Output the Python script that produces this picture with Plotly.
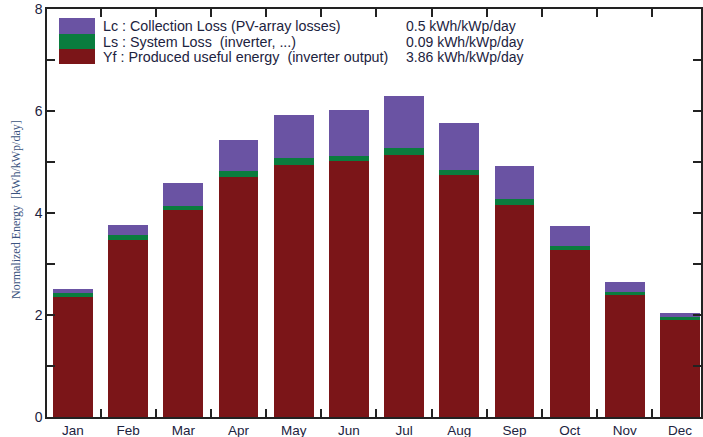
import plotly.graph_objects as go

months = ["Jan", "Feb", "Mar", "Apr", "May", "Jun", "Jul", "Aug", "Sep", "Oct", "Nov", "Dec"]
yf = [2.35, 3.48, 4.06, 4.71, 4.95, 5.01, 5.14, 4.75, 4.16, 3.27, 2.39, 1.91]
ls = [0.08, 0.08, 0.08, 0.11, 0.13, 0.10, 0.13, 0.10, 0.11, 0.08, 0.07, 0.06]
lc = [0.08, 0.20, 0.44, 0.61, 0.85, 0.90, 1.02, 0.92, 0.66, 0.40, 0.19, 0.07]

legend_labels = ["Lc : Collection Loss (PV-array losses)",
                 "Ls : System Loss  (inverter, ...)",
                 "Yf : Produced useful energy  (inverter output)"]
legend_values = ["0.5 kWh/kWp/day", "0.09 kWh/kWp/day", "3.86 kWh/kWp/day"]

C_LC = "#6a53a3"
C_LS = "#0a7c3e"
C_YF = "#7b1518"
TXT = "#1c2340"

x = list(range(len(months)))
fig = go.Figure()
edge = dict(width=0)
for vals, col in [(yf, C_YF), (ls, C_LS), (lc, C_LC)]:
    fig.add_trace(go.Bar(x=x, y=vals, marker=dict(color=col, line=edge),
                         width=0.72, showlegend=False))

# overlay axis for top ticks
fig.add_trace(go.Scatter(x=[0], y=[0], xaxis="x2", mode="markers",
                         marker=dict(opacity=0), showlegend=False, hoverinfo="skip"))

between = [i + 0.5 for i in range(len(months) - 1)]
xr = [-0.47, 11.38]

fig.update_layout(
    width=703, height=437,
    margin=dict(l=47, r=2, t=9, b=20, autoexpand=False),
    barmode="stack",
    plot_bgcolor="white", paper_bgcolor="white",
    font=dict(family="Liberation Sans, Arial", size=12, color=TXT),
    xaxis=dict(range=xr, tickvals=x, ticktext=months, ticks="", automargin=False,
               showline=True, linecolor="#222", linewidth=1.5, mirror=True,
               showgrid=False, zeroline=False,
               tickfont=dict(size=13.5, color=TXT),
               minor=dict(tickmode="array", tickvals=between, ticks="inside",
                          ticklen=8, tickcolor="#222", tickwidth=1.5, showgrid=False)),
    xaxis2=dict(range=xr, overlaying="x", side="top", tickvals=between, automargin=False,
                ticks="inside", ticklen=8, tickcolor="#222", tickwidth=1.5,
                showticklabels=False, showgrid=False, zeroline=False, showline=False),
    yaxis=dict(range=[0, 8], tickvals=[0, 2, 4, 6, 8], ticks="inside", ticklen=8,
               tickcolor="#222", tickwidth=1.5, automargin=False,
               showline=True, linecolor="#222", linewidth=1.5, mirror="allticks",
               showgrid=False, zeroline=False,
               tickfont=dict(size=14, color=TXT),
               minor=dict(tickvals=[1, 3, 5, 7], tickmode="array", ticks="inside",
                          ticklen=8, tickcolor="#222", tickwidth=1.5, showgrid=False)),
)

# custom legend
PW = 703 - 47 - 2
PH = 437 - 9 - 20
def px(xp):
    return (xp - 47) / PW
def py(yp):
    return (437 - 20 - yp) / PH

rows = [(18, 34, C_LC), (34, 49, C_LS), (49, 64, C_YF)]
for i, (y0, y1, col) in enumerate(rows):
    fig.add_shape(type="rect", xref="paper", yref="paper",
                  x0=px(59), x1=px(95), y0=py(y1), y1=py(y0),
                  fillcolor=col, line=dict(width=0))
    yc = (y0 + y1) / 2 + 0.5
    fig.add_annotation(xref="paper", yref="paper", x=px(101), y=py(yc),
                       text=legend_labels[i], showarrow=False, xanchor="left",
                       yanchor="middle", font=dict(size=14.3, color=TXT))
    fig.add_annotation(xref="paper", yref="paper", x=px(404), y=py(yc),
                       text=legend_values[i], showarrow=False, xanchor="left",
                       yanchor="middle", font=dict(size=14, color=TXT))

fig.add_annotation(xref="paper", yref="paper", x=px(16), y=py(210),
                   text="Normalized Energy  [kWh/kWp/day]", textangle=-90,
                   showarrow=False, xanchor="center", yanchor="middle",
                   font=dict(family="Liberation Serif, Times New Roman", size=12,
                             color="#3c5480"))

fig.write_html("out.html", config={"displayModeBar": False},
               post_script="document.body.style.margin='0';document.body.style.overflow='hidden';")
